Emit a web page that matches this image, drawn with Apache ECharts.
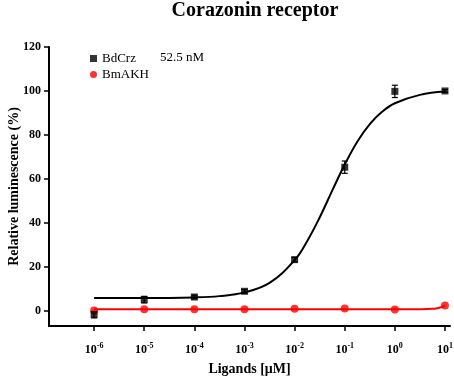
<!DOCTYPE html>
<html>
<head>
<meta charset="utf-8">
<script src="https://cdn.jsdelivr.net/npm/echarts@6/dist/echarts.min.js"></script>
<style>
  html, body { margin: 0; padding: 0; background: #fff; }
  #chart { width: 454px; height: 380px; }
</style>
</head>
<body>
<div id="chart"></div>
<script>
// log10 of ligand concentration (uM)
var logConc = [-6, -5, -4, -3, -2, -1, 0, 1];

// measured points, % relative luminescence
var crzMean = [-1.8, 5.0, 6.2, 8.8, 23.2, 65.3, 99.8, 100.0];
var crzErr  = [1.5, 1.5, 0.8, 0.8, 1.0, 2.8, 2.8, 0.6];
var akhMean = [0.0, 0.6, 0.6, 0.6, 0.9, 1.0, 0.5, 2.3];

// fitted curves
var crzFitX = [-6, -5, -4, -3.5, -3, -2.5, -2, -1.75, -1.5, -1.25, -1, -0.75, -0.5, -0.25, 0, 0.5, 1];
var crzFitY = [5.7, 5.7, 6.0, 6.6, 8.3, 12.6, 23.0, 31.6, 42.4, 54.6, 66.5, 76.9, 84.9, 90.6, 94.4, 98.2, 99.7];
var akhFitX = [-6, -4, -2, 0, 0.5, 0.75, 0.85, 0.92, 1];
var akhFitY = [0.6, 0.6, 0.6, 0.6, 0.65, 0.8, 1.1, 1.5, 2.2];

var yTicks = [0, 20, 40, 60, 80, 100, 120];
var ec50Label = '52.5 nM';

var serif = '"Liberation Serif", "Times New Roman", serif';

function pairs(xs, ys) {
    var out = [];
    for (var i = 0; i < xs.length; i++) out.push([xs[i], ys[i]]);
    return out;
}

var chart = echarts.init(document.getElementById('chart'));

var errData = [];
for (var i = 0; i < logConc.length; i++) {
    errData.push([logConc[i], crzMean[i] - crzErr[i], crzMean[i] + crzErr[i]]);
}

var option = {
    animation: false,
    title: {
        text: 'Corazonin receptor',
        left: 250, top: -4, textAlign: 'center',
        textStyle: { fontFamily: serif, fontSize: 20, fontWeight: 'bold', color: '#000' }
    },
    graphic: [{
        type: 'text', left: 160, top: 51,
        style: { text: ec50Label, font: '13px ' + serif, fill: '#000' }
    }],
    legend: {
        orient: 'vertical', left: 85, top: 47, itemGap: 3,
        itemWidth: 7, itemHeight: 7,
        textStyle: { fontFamily: serif, fontSize: 13, color: '#000' },
        data: [
            { name: 'BdCrz', icon: 'rect' },
            { name: 'BmAKH', icon: 'circle' }
        ]
    },
    grid: { left: 49, right: 4, top: 47, bottom: 54, outerBoundsMode: 'none', containLabel: false },
    xAxis: {
        type: 'value', min: -6.9, max: 1.1,
        name: 'Ligands [μM]', nameLocation: 'middle', nameGap: 36, nameMoveOverlap: false,
        nameTextStyle: { fontFamily: serif, fontSize: 14, fontWeight: 'bold', color: '#000' },
        axisLine: { onZero: false, lineStyle: { color: '#000', width: 2 } },
        axisTick: { customValues: logConc, length: 5, lineStyle: { color: '#000', width: 1.5 } },
        axisLabel: {
            customValues: logConc, margin: 16,
            formatter: function (v) { return '{b|10}{s|' + v + '}'; },
            rich: {
                b: { fontFamily: serif, fontSize: 12, fontWeight: 'bold', color: '#000' },
                s: { fontFamily: serif, fontSize: 8, fontWeight: 'bold', color: '#000', padding: [0, 0, 7, 0] }
            }
        },
        splitLine: { show: false }
    },
    yAxis: {
        type: 'value', min: -7, max: 120,
        name: 'Relative luminescence (%)', nameLocation: 'middle', nameGap: 28, nameMoveOverlap: false,
        nameTextStyle: { fontFamily: serif, fontSize: 14, fontWeight: 'bold', color: '#000' },
        axisLine: { show: true, onZero: false, lineStyle: { color: '#000', width: 2 } },
        axisTick: { show: true, customValues: yTicks, length: 5, lineStyle: { color: '#000', width: 1.5 } },
        axisLabel: {
            customValues: yTicks, margin: 8,
            fontFamily: serif, fontSize: 12, fontWeight: 'bold', color: '#000'
        },
        splitLine: { show: false }
    },
    series: [
        {
            type: 'line', data: pairs(crzFitX, crzFitY), smooth: 0.4,
            showSymbol: false, silent: true,
            lineStyle: { color: '#000', width: 2 }, z: 2
        },
        {
            type: 'line', data: pairs(akhFitX, akhFitY), smooth: 0.4,
            showSymbol: false, silent: true,
            lineStyle: { color: '#f00', width: 2 }, z: 2
        },
        {
            type: 'custom', silent: true, z: 3,
            renderItem: function (params, api) {
                var top = api.coord([api.value(0), api.value(2)]);
                var bot = api.coord([api.value(0), api.value(1)]);
                var w = 3;
                var st = { stroke: '#000', lineWidth: 1.2 };
                return {
                    type: 'group', children: [
                        { type: 'line', shape: { x1: top[0], y1: top[1], x2: bot[0], y2: bot[1] }, style: st },
                        { type: 'line', shape: { x1: top[0] - w, y1: top[1], x2: top[0] + w, y2: top[1] }, style: st },
                        { type: 'line', shape: { x1: bot[0] - w, y1: bot[1], x2: bot[0] + w, y2: bot[1] }, style: st }
                    ]
                };
            },
            data: errData
        },
        {
            name: 'BmAKH', type: 'scatter', data: pairs(logConc, akhMean),
            symbol: 'circle', symbolSize: 8, itemStyle: { color: '#f00' }, z: 4
        },
        {
            name: 'BdCrz', type: 'scatter', data: pairs(logConc, crzMean),
            symbol: 'rect', symbolSize: 7, itemStyle: { color: '#000' }, z: 5
        }
    ]
};

chart.setOption(option);
</script>
</body>
</html>
